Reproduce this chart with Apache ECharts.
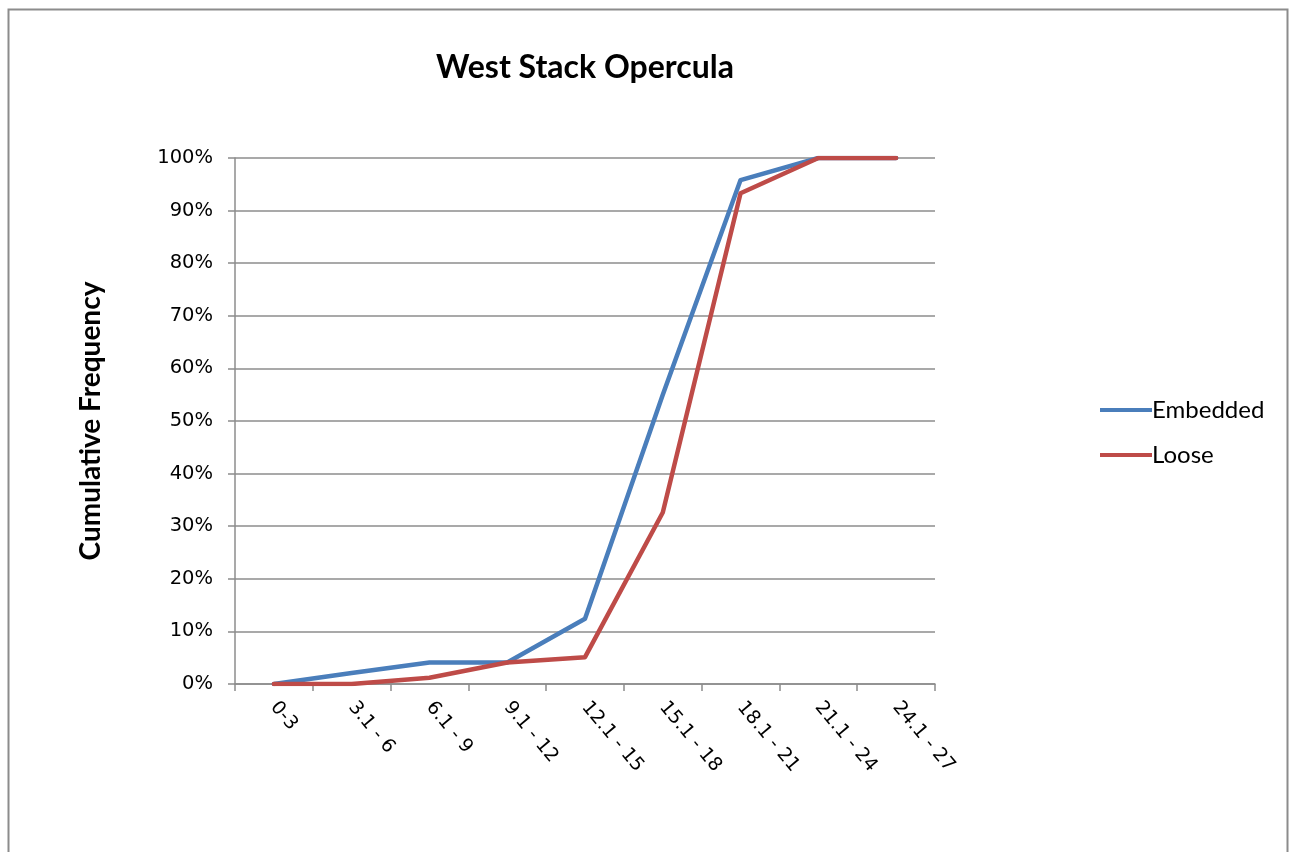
<!DOCTYPE html>
<html>
<head>
<meta charset="utf-8">
<script src="https://cdn.jsdelivr.net/npm/echarts@6/dist/echarts.min.js"></script>
<style>html,body{margin:0;padding:0;background:#fff;}#c{width:1290px;height:852px;}</style>
</head>
<body>
<div id="c"></div>
<script>
const categories = ['0-3','3.1 - 6','6.1 - 9','9.1 - 12','12.1 - 15','15.1 - 18','18.1 - 21','21.1 - 24','24.1 - 27'];
const embedded = [0, 2.1, 4.1, 4.1, 12.4, 55, 95.8, 100, 100];
const loose = [0, 0, 1.2, 4.1, 5.1, 32.6, 93.3, 100, 100];
const yTicks = [0,10,20,30,40,50,60,70,80,90,100];

const font = 'Lato, "Open Sans", sans-serif';
const tickFont = '"DejaVu Sans", sans-serif';
const chart = echarts.init(document.getElementById('c'), null, {renderer:'canvas'});
chart.setOption({
  animation: false,
  backgroundColor: '#fff',
  graphic: [{
    type: 'rect', left: 6, top: 7, shape: {width: 1279, height: 860},
    style: {fill: 'none', stroke: '#8c8c8c', lineWidth: 2}, silent: true, z: -1
  }],
  title: {
    text: 'West Stack Opercula', left: 580, top: 47, textAlign: 'center',
    textStyle: {fontFamily: font, fontSize: 32, fontWeight: 'bold', color: '#000'}
  },
  legend: {
    orient: 'vertical', left: 1095, top: 393, itemGap: 21,
    itemWidth: 52, itemHeight: 4, icon: 'rect',
    textStyle: {fontFamily: font, fontSize: 24, color: '#000', padding: [0,0,0,-5]},
    data: ['Embedded', 'Loose']
  },
  grid: {left: 235, right: 355, top: 158, bottom: 168, containLabel: false},
  xAxis: {
    type: 'category', data: categories, boundaryGap: true,
    axisLine: {lineStyle: {color: '#8c8c8c', width: 1.5}},
    axisTick: {show: true, length: 7, alignWithLabel: false, lineStyle: {color: '#8c8c8c', width: 1.5}},
    axisLabel: {rotate: -50, margin: 20, fontFamily: tickFont, fontSize: 19, color: '#000', interval: 0}
  },
  yAxis: {
    type: 'value', min: 0, max: 100, interval: 10,
    name: 'Cumulative Frequency', nameLocation: 'middle', nameGap: 130, nameRotate: 90,
    nameTextStyle: {fontFamily: font, fontSize: 28, fontWeight: 'bold', color: '#000'},
    axisLine: {show: true, lineStyle: {color: '#8c8c8c', width: 1.5}},
    axisTick: {show: true, length: 7, lineStyle: {color: '#8c8c8c', width: 1.5}},
    axisLabel: {margin: 22, fontFamily: tickFont, fontSize: 19.5, color: '#000',
      formatter: v => yTicks.includes(v) ? v + '%' : ''},
    splitLine: {show: true, lineStyle: {color: '#8c8c8c', width: 1.5}}
  },
  series: [
    {name: 'Embedded', type: 'line', data: embedded, symbol: 'none', color: '#4a7ebb',
     lineStyle: {width: 4.5, color: '#4a7ebb', cap: 'round', join: 'round'}, z: 3},
    {name: 'Loose', type: 'line', data: loose, symbol: 'none', color: '#be4b48',
     lineStyle: {width: 4.5, color: '#be4b48', cap: 'round', join: 'round'}, z: 4}
  ]
});
</script>
</body>
</html>
